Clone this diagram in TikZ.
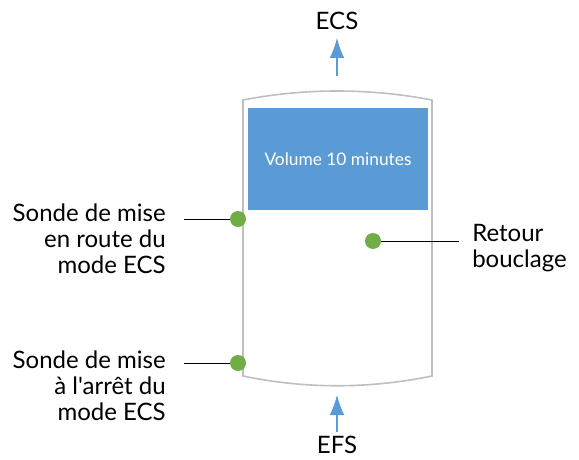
\documentclass[tikz,border=0pt]{standalone}
\usepackage{fontspec}
\setmainfont{Lato}[Ligatures=TeXOff]
\usetikzlibrary{arrows.meta}
\definecolor{tankgray}{HTML}{BFBFBF}
\definecolor{volblue}{HTML}{5B9BD5}
\definecolor{dotgreen}{HTML}{70AD47}
\tikzset{
  lbl/.style={inner sep=0pt, font=\fontsize{18}{19.5}\selectfont},
  sonde/.style={circle, fill=dotgreen, inner sep=0pt, minimum size=12pt},
  leader/.style={draw=black, line width=0.75pt},
  flow/.style={draw=volblue, line width=0.9pt, -{Latex[length=15pt,width=11pt]}},
}
\begin{document}
\begin{tikzpicture}[x=0.75pt,y=-0.75pt]
\useasboundingbox (0,0) rectangle (579,460);
% tank
\draw[tankgray, line width=1.2pt] (243,100) .. controls (305,88) and (369,88) .. (432,100)
  -- (432,376) .. controls (369,389) and (305,389) .. (243,376) -- cycle;
% volume
\node[fill=volblue, inner sep=0pt, minimum width=180*0.75pt, minimum height=102*0.75pt, text=white,
  font=\fontsize{13}{15}\selectfont] (vol) at (338,159) {Volume 10 minutes};
% flows
\node[lbl] (ecs) at (337,21) {ECS};
\node[lbl] (efs) at (337,445) {EFS};
\coordinate (ecsin) at (337,76);
\coordinate (ecstip) at (337,38);
\coordinate (efsin) at (337,432);
\coordinate (efstip) at (337,395);
\draw[flow] (ecsin) -- (ecstip);
\draw[flow] (efsin) -- (efstip);
% sondes
\node[sonde] (s1) at (238,219) {};
\node[sonde] (s2) at (238,363) {};
\node[sonde] (s3) at (373,241) {};
\node[lbl, align=right, anchor=east] (t1) at (166,239) {Sonde de mise\\en route du\\mode ECS};
\node[lbl, align=right, anchor=east] (t2) at (166,386) {Sonde de mise\\à l'arrêt du\\mode ECS};
\node[lbl, align=left, anchor=west] (t3) at (472,248) {Retour\\bouclage};
\coordinate (l1) at (184,219);
\coordinate (l2) at (184,363);
\coordinate (l3) at (459,241);
\draw[leader] (l1) -- (s1);
\draw[leader] (l2) -- (s2);
\draw[leader] (s3) -- (l3);
\end{tikzpicture}
\end{document}
